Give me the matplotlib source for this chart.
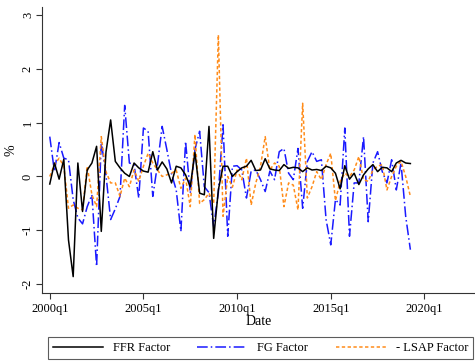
import matplotlib
matplotlib.use("Agg")
import matplotlib.pyplot as plt
import numpy as np

plt.rcParams['font.family'] = ['Liberation Serif', 'DejaVu Serif']

# quarterly factors, 2000q1 .. 2019q2
start_year = 2000
ffr = [-0.14, 0.25, -0.05, 0.32, -1.18, -1.86, 0.25, -0.65, 0.12, 0.25,
       0.56, -1.02, 0.45, 1.05, 0.28, 0.16, 0.06, 0.00, 0.25, 0.16,
       0.10, 0.08, 0.46, 0.12, 0.27, 0.14, -0.12, 0.19, 0.16, 0.03,
       -0.19, 0.45, -0.31, -0.34, 0.93, -1.15, -0.25, 0.19, 0.19, 0.00,
       0.09, 0.16, 0.19, 0.30, 0.11, 0.12, 0.33, 0.14, 0.12, 0.11,
       0.22, 0.15, 0.17, 0.16, 0.09, 0.16, 0.12, 0.13, 0.11, 0.19,
       0.16, 0.06, -0.23, 0.20, -0.05, 0.06, -0.15, 0.03, 0.14, 0.22,
       0.09, 0.17, 0.16, 0.09, 0.25, 0.30, 0.25, 0.24]
fg = [0.74, 0.09, 0.63, 0.34, 0.31, -0.43, -0.77, -0.88, -0.56, -0.34,
      -1.67, 0.65, 0.03, -0.80, -0.60, -0.37, 1.32, 0.25, 0.22, -0.40,
      0.90, 0.84, -0.37, 0.22, 0.93, 0.50, 0.05, -0.25, -1.02, 0.65,
      -0.31, 0.50, 0.84, -0.19, -0.30, -0.93, -0.30, 0.96, -1.11, 0.19,
      0.20, 0.12, -0.40, 0.10, 0.12, -0.06, -0.28, 0.10, -0.06, 0.46,
      0.52, 0.06, -0.06, 0.52, -0.59, 0.28, 0.46, 0.28, 0.31, -0.80,
      -1.27, -0.43, -0.53, 0.90, -1.11, -0.12, -0.12, 0.74, -0.84, 0.25,
      0.46, 0.09, -0.12, 0.31, -0.25, 0.25, -0.74, -1.36]
lsap = [0.00, 0.22, 0.34, 0.19, -0.59, -0.53, -0.59, -0.62, 0.19, -0.34,
        -0.56, 0.74, 0.09, -0.12, -0.12, -0.37, -0.03, -0.19, 0.12, -0.09,
        0.19, 0.43, 0.25, 0.12, 0.00, 0.03, 0.06, 0.12, -0.22, -0.03,
        -0.56, 0.78, -0.50, -0.43, -0.31, -0.50, 2.63, -0.74, 0.00, -0.20,
        0.12, -0.06, 0.34, -0.53, -0.12, 0.19, 0.74, 0.12, 0.25, 0.19,
        -0.56, -0.12, -0.16, -0.62, 1.36, -0.40, -0.19, 0.09, -0.06, 0.22,
        0.43, -0.45, -0.09, 0.06, 0.00, 0.12, 0.37, -0.06, -0.09, 0.12,
        0.19, 0.22, -0.25, 0.00, 0.19, 0.28, 0.00, -0.37]
tick_years = [2000, 2005, 2010, 2015, 2020]

x = np.arange(len(ffr))

fig = plt.figure(figsize=(4.75, 3.61), dpi=100)
ax = fig.add_axes([0.088, 0.189, 0.912, 0.792])

ax.plot(x, fg, color='#1a1aff', lw=1.1, linestyle=(0, (7, 2, 1, 2)), label='FG Factor')
ax.plot(x, lsap, color='#ff8c1a', lw=1.1, linestyle=(0, (2.2, 1.6)), label='- LSAP Factor')
ax.plot(x, ffr, color='black', lw=1.1, label='FFR Factor')

ax.set_xlim(-1.7, 90.8)
ax.set_ylim(-2.16, 3.15)
ax.set_xticks([(y - start_year) * 4 for y in tick_years])
ax.set_xticklabels(['%dq1' % y for y in tick_years], fontsize=9)
ax.set_yticks([-2, -1, 0, 1, 2, 3])
ax.set_yticklabels(['-2', '-1', '0', '1', '2', '3'], fontsize=9, rotation=90,
                   va='center', ha='center')
ax.set_xlabel('Date', fontsize=10, labelpad=0)
ax.set_ylabel('%', fontsize=10, labelpad=3)

for s in ['top', 'right']:
    ax.spines[s].set_visible(False)
for s in ['left', 'bottom']:
    ax.spines[s].set_color('#333333')
    ax.spines[s].set_linewidth(0.8)
ax.tick_params(colors='#333333', length=4, width=0.8, labelcolor='black')
ax.tick_params(axis='y', pad=6)

h, l = ax.get_legend_handles_labels()
order = [2, 0, 1]
leg = fig.legend([h[i] for i in order], [l[i] for i in order], ncol=3,
                 loc='upper center', bbox_to_anchor=(0.548, 0.066),
                 fontsize=9, handlelength=4, columnspacing=2.2,
                 fancybox=False, frameon=True, borderaxespad=0)
leg.get_frame().set_edgecolor('#333333')
leg.get_frame().set_linewidth(0.8)

fig.savefig('out.png', dpi=100)
